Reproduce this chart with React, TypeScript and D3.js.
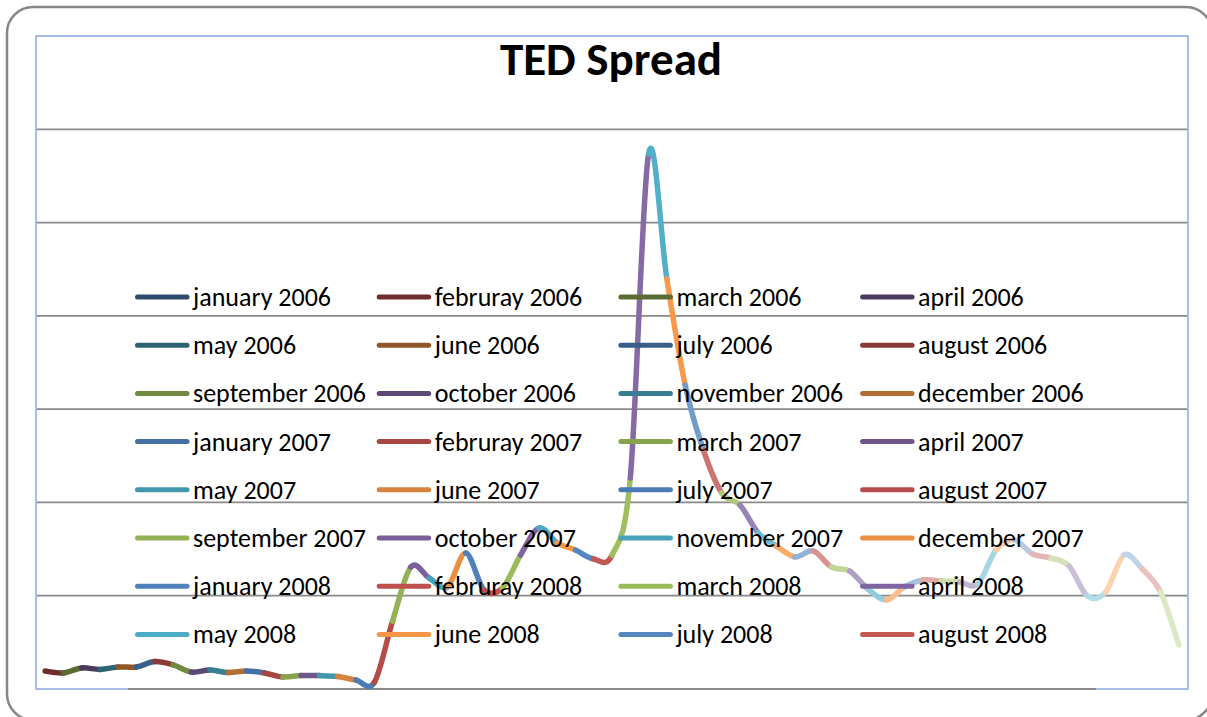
import React from 'react';
import * as d3 from 'd3';

// series names: one series per month, Excel drew each one as a short piece of the line
const monthNames = ['january', 'februray', 'march', 'april', 'may', 'june', 'july', 'august', 'september', 'october', 'november', 'december'];
const firstYear = 2006;

// TED spread, one value per month (jan 2006 .. mar 2011)
const tedValues = [
  0.096, 0.086, 0.113, 0.105, 0.118, 0.118, 0.147, 0.129, 0.091, 0.102, 0.088, 0.096,
  0.086, 0.064, 0.072, 0.072, 0.067, 0.048, 0.035, 0.364, 0.654, 0.595, 0.547, 0.729,
  0.531, 0.541, 0.718, 0.863, 0.783, 0.745, 0.697, 0.718, 1.131, 2.868, 2.198, 1.629,
  1.281, 1.051, 0.986, 0.836, 0.766, 0.708, 0.740, 0.654, 0.632, 0.536, 0.477, 0.547,
  0.584, 0.579, 0.574, 0.563, 0.745, 0.799, 0.724, 0.702, 0.659, 0.498, 0.520, 0.718,
  0.643, 0.520, 0.236,
];

const yTicks = [0, 0.5, 1, 1.5, 2, 2.5, 3, 3.5];
const legendCount = 32; // excel cut the legend off after august 2008

// office 2007 accent colours, shaded darker -> lighter per group of six series
const accents = ['#4F81BD', '#C0504D', '#9BBB59', '#8064A2', '#4BACC6', '#F79646'];
const groupShade = [-0.42, -0.27, -0.13, -0.05, 0, 0.04, 0.2, 0.38, 0.5, 0.58, 0.65];

const W = 1207;
const H = 717;
const plot = { left: 36, right: 1188, top: 36, bottom: 689 };
const FONT = 'Carlito, Calibri, Lato, sans-serif';

const seriesName = (s: number) => `${monthNames[s % 12]} ${firstYear + Math.floor(s / 12)}`;

const seriesColor = (s: number) => {
  const base = d3.rgb(accents[s % 6]);
  const f = groupShade[Math.floor(s / 6)];
  if (f < 0) return d3.rgb(base.r * (1 + f), base.g * (1 + f), base.b * (1 + f)).formatHex();
  return d3.interpolateRgb(base, '#ffffff')(f);
};

export default function App() {
  const idx = tedValues.map((_, i) => i);
  const x = d3.scalePoint<number>().domain(idx).range([plot.left, plot.right]).padding(0.5);
  const y = d3.scaleLinear().domain([0, 3.5]).range([plot.bottom, plot.top]);

  const pts = tedValues.map((v, i) => [x(i) as number, y(v)]);

  // smoothed line like excel: catmull-rom bezier, one piece per series
  const pieces = [];
  for (let i = 0; i < pts.length - 1; i++) {
    const p0 = pts[Math.max(i - 1, 0)];
    const p1 = pts[i];
    const p2 = pts[i + 1];
    const p3 = pts[Math.min(i + 2, pts.length - 1)];
    const p = d3.path();
    p.moveTo(p1[0], p1[1]);
    p.bezierCurveTo(
      p1[0] + (p2[0] - p0[0]) / 6, p1[1] + (p2[1] - p0[1]) / 6,
      p2[0] - (p3[0] - p1[0]) / 6, p2[1] - (p3[1] - p1[1]) / 6,
      p2[0], p2[1]
    );
    pieces.push({ d: p.toString(), color: seriesColor(i + 1) });
  }

  const legendItems = d3.range(legendCount).map((s) => ({
    name: seriesName(s),
    color: seriesColor(s),
    col: s % 4,
    row: Math.floor(s / 4),
  }));

  return (
    <svg width={W} height={H} style={{ position: 'absolute', left: 0, top: 0, background: '#fff' }}>
      <rect x={7} y={7} width={1205} height={713} rx={26} fill="#fff" stroke="#868686" strokeWidth={2.5} />

      <rect x={plot.left} y={plot.top} width={plot.right - plot.left} height={plot.bottom - plot.top}
        fill="none" stroke="#a7bde3" strokeWidth={2} />

      {yTicks.filter((t) => t > 0 && t < 3.5).map((t) => (
        <line key={t} x1={plot.left + 1} x2={plot.right - 1} y1={y(t)} y2={y(t)} stroke="#8a8a8a" strokeWidth={1.8} />
      ))}
      <line x1={128} x2={1096} y1={y(0)} y2={y(0)} stroke="#8a8a8a" strokeWidth={1.8} />

      <text x={611} y={75} textAnchor="middle" fontFamily={FONT} fontWeight="bold" fontSize={47} fill="#000">
        TED Spread
      </text>

      <g fill="none" strokeWidth={5.5} strokeLinecap="round">
        {pieces.map((p, i) => (
          <path key={i} d={p.d} stroke={p.color} />
        ))}
      </g>

      <g fontFamily={FONT} fontSize={26} fill="#000">
        {legendItems.map((it) => {
          const lx = 137.5 + it.col * 241.7;
          const ly = 297 + it.row * 48.2;
          return (
            <g key={it.name}>
              <line x1={lx} x2={lx + 49.5} y1={ly} y2={ly} stroke={it.color} strokeWidth={5} strokeLinecap="round" />
              <text x={lx + 55.5} y={ly + 9}>{it.name}</text>
            </g>
          );
        })}
      </g>
    </svg>
  );
}
